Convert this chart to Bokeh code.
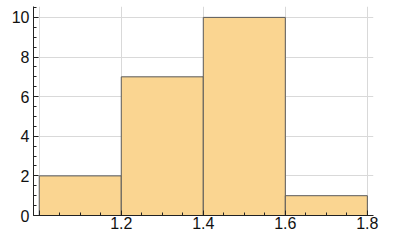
from bokeh.plotting import figure
from bokeh.models import Range1d, FixedTicker, ColumnDataSource
from bokeh.embed import file_html
from bokeh.resources import INLINE

bin_edges = [1.0, 1.2, 1.4, 1.6, 1.8]
counts = [2, 7, 10, 1]
x_ticks = [1.0, 1.2, 1.4, 1.6, 1.8]
y_ticks = [0, 2, 4, 6, 8, 10]

src = ColumnDataSource(dict(left=bin_edges[:-1], right=bin_edges[1:], top=counts,
                            bottom=[0] * len(counts)))

p = figure(width=379, height=231, output_backend="svg", toolbar_location=None,
           x_range=Range1d(0.986, 1.815), y_range=Range1d(0, 10.55),
           min_border_left=33, min_border_right=6, min_border_top=6, min_border_bottom=16)
p.outline_line_color = None
p.background_fill_color = "white"
p.border_fill_color = "white"

p.quad(left="left", right="right", top="top", bottom="bottom", source=src,
       fill_color="#FAD591", line_color="#5a5a5a", line_width=1)

for ax in (p.xaxis[0], p.yaxis[0]):
    ax.axis_line_color = "#222222"
    ax.major_tick_in = 5
    ax.major_tick_out = 0
    ax.minor_tick_in = 3
    ax.minor_tick_out = 0
    ax.major_tick_line_color = "#222222"
    ax.minor_tick_line_color = "#222222"
    ax.major_label_text_font = "Liberation Sans"
    ax.major_label_text_font_size = "16px"
    ax.major_label_text_color = "#111111"

p.xaxis.ticker = FixedTicker(ticks=x_ticks, minor_ticks=[round(1.0 + 0.05 * i, 2) for i in range(17)])
p.xaxis.major_label_overrides = {1.0: ""}
p.xaxis.major_label_standoff = 1
p.yaxis.ticker = FixedTicker(ticks=y_ticks, minor_ticks=[0.5 * i for i in range(22)])
p.yaxis.major_label_standoff = 4

p.xgrid.ticker = FixedTicker(ticks=x_ticks)
p.ygrid.ticker = FixedTicker(ticks=y_ticks)
p.grid.grid_line_color = "#d9d9d9"
p.grid.grid_line_width = 1

open("out.html", "w").write(file_html(p, INLINE))
